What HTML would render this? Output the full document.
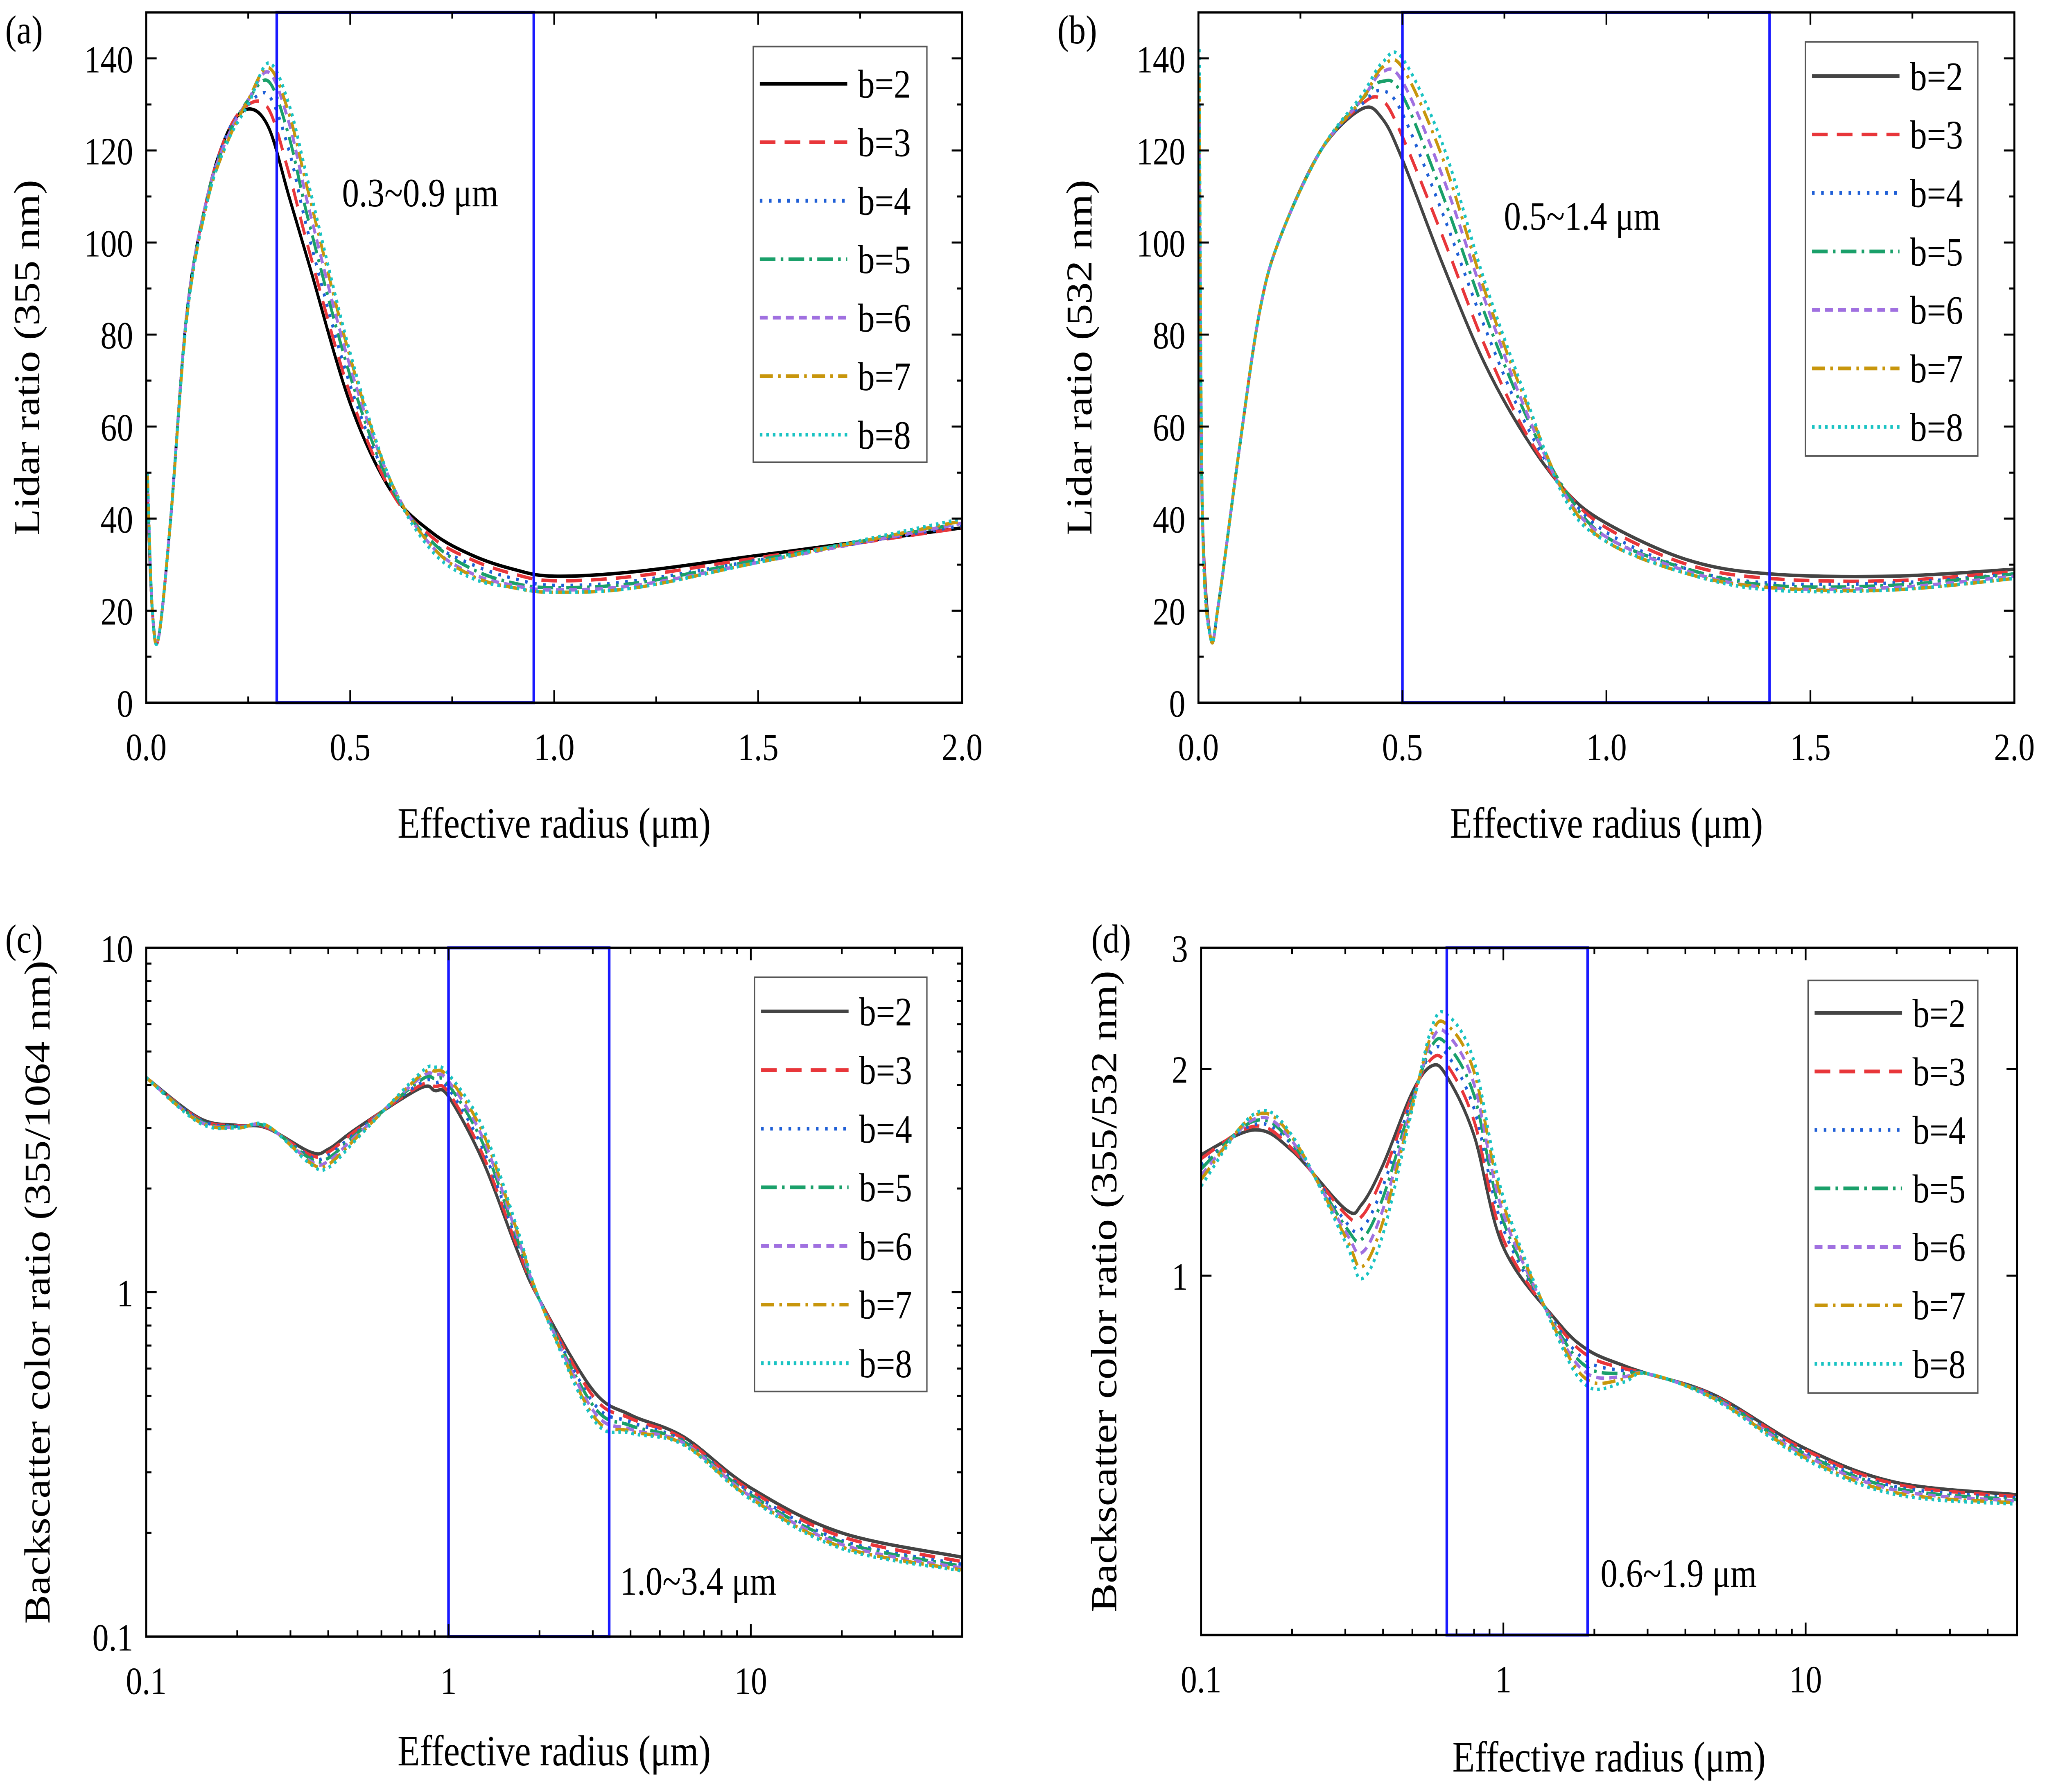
<!DOCTYPE html>
<html><head><meta charset="utf-8"><style>html,body{margin:0;padding:0;background:#fff;overflow:hidden;width:100vw;height:100vh}svg{display:block;width:100vw;height:100vh}</style></head>
<body>
<svg id="fig" xmlns="http://www.w3.org/2000/svg" viewBox="0 0 1568 1155.2" preserveAspectRatio="none" font-family="Liberation Serif, serif"></svg>
<script>
const labels=["b=2","b=3","b=4","b=5","b=6","b=7","b=8"];
const aX=[0.003,0.015,0.03,0.06,0.1,0.15,0.2,0.25,0.3,0.35,0.4,0.5,0.6,0.7,0.8,0.9,1.0,1.2,1.5,2.0];
const aY=[
[45,20,14,40,85,110,124,129,125,110,95,65,46,37,32,29,27.5,28.5,32,38],
[46,20,14,40,85,110,124,130,129,115,98,67,46,36,31,28,26.5,27.5,31.5,38],
[47,20,14,40,85,110,124,130,132,120,101,69,47,35,30,27,25.5,26.5,31,38.5],
[48,20,14,40,85,110,123,131,135,123,104,71,47,35,29,26,25,26,31,39],
[49,20,14,40,85,110,123,131,137,126,107,73,48,34,28,25.5,24.5,25.5,30.5,39],
[50,20,14,40,84,109,122,131,138,128,110,75,48,34,27.5,25,24,25,30.5,39.5],
[50,20,14,40,84,109,122,130,139,130,112,76,48,33,27,25,24,25,30.5,40]];
const bX=[0.002,0.01,0.03,0.05,0.1,0.15,0.2,0.3,0.4,0.45,0.5,0.6,0.7,0.8,0.9,1.0,1.2,1.4,1.7,2.0];
const bY=[
[100,40,14,22,55,85,101,120,129,127,118,95,74,58,46,39,31,28,27.5,29],
[110,40,14,22,55,85,101,120,130,131,123,101,78,59,46,38,30,27,26.5,28.5],
[120,40,14,22,55,85,101,120,130,133,128,106,82,61,46,37,29,26,26,28],
[125,40,14,22,55,85,101,120,131,135,132,110,85,63,46,36,29,25.5,25.5,28],
[130,40,14,22,55,85,101,120,131,137,135,114,88,64,45,36,28.5,25,25,27.5],
[136,40,14,22,55,85,101,120,131,138,138,118,90,66,45,35,28,25,24.5,27],
[142,40,14,22,55,85,101,120,132,139,140,121,92,67,44,35,28,24.5,24.5,27]];
const cX=[0.1,0.15,0.2,0.25,0.35,0.4,0.5,0.8,0.9,1.0,1.3,1.7,2,3,4,6,10,20,50];
const cY=[
[4.2,3.2,3.05,3.0,2.55,2.6,3.0,3.9,3.85,3.7,2.4,1.3,0.95,0.52,0.44,0.38,0.27,0.2,0.17],
[4.2,3.18,3.04,3.01,2.5,2.55,2.97,3.97,3.96,3.8,2.5,1.33,0.95,0.5,0.43,0.375,0.265,0.195,0.165],
[4.2,3.17,3.03,3.02,2.47,2.5,2.93,4.03,4.06,3.9,2.6,1.37,0.95,0.48,0.42,0.37,0.262,0.19,0.162],
[4.2,3.15,3.02,3.03,2.44,2.45,2.9,4.1,4.17,4.0,2.7,1.4,0.95,0.47,0.41,0.368,0.258,0.188,0.16],
[4.2,3.13,3.01,3.04,2.4,2.4,2.87,4.17,4.28,4.1,2.8,1.43,0.95,0.455,0.4,0.365,0.255,0.185,0.158],
[4.2,3.12,3.0,3.05,2.37,2.35,2.83,4.23,4.39,4.2,2.9,1.47,0.95,0.44,0.395,0.362,0.252,0.182,0.156],
[4.2,3.1,3.0,3.05,2.35,2.3,2.8,4.3,4.5,4.3,3.0,1.5,0.95,0.43,0.39,0.36,0.25,0.18,0.155]];
const dX=[0.1,0.15,0.2,0.3,0.34,0.4,0.5,0.58,0.65,0.8,1.0,1.5,1.9,2.5,3,5,10,20,50];
const dY=[
[1.5,1.63,1.52,1.25,1.27,1.45,1.85,2.02,1.95,1.6,1.1,0.86,0.78,0.74,0.72,0.67,0.56,0.5,0.48],
[1.48,1.65,1.53,1.23,1.22,1.4,1.83,2.07,2.03,1.68,1.13,0.853,0.765,0.733,0.72,0.668,0.557,0.497,0.477],
[1.45,1.66,1.55,1.2,1.17,1.35,1.82,2.12,2.1,1.75,1.17,0.847,0.75,0.727,0.72,0.667,0.553,0.493,0.475],
[1.43,1.68,1.56,1.18,1.13,1.3,1.8,2.16,2.17,1.83,1.2,0.84,0.735,0.72,0.72,0.665,0.55,0.49,0.472],
[1.4,1.69,1.57,1.16,1.08,1.25,1.78,2.2,2.25,1.9,1.23,0.833,0.72,0.713,0.72,0.663,0.547,0.487,0.47],
[1.38,1.71,1.59,1.14,1.03,1.2,1.77,2.25,2.32,1.98,1.27,0.827,0.705,0.707,0.72,0.662,0.543,0.483,0.467],
[1.35,1.72,1.6,1.12,0.99,1.15,1.75,2.3,2.4,2.05,1.3,0.82,0.69,0.7,0.72,0.66,0.54,0.48,0.465]];
const colors=["#000","#e8363a","#1f5fd6","#1aa06a","#a070e0","#c8960c","#19c3c3"];
const dashes=["","12,7","2,5","12,4,2,4","6,4","10,4,2,4","2,3"];
const NS="http://www.w3.org/2000/svg";
const svg=document.getElementById('fig');
function el(tag,attrs,parent,txt){const e=document.createElementNS(NS,tag);for(const k in attrs)e.setAttribute(k,attrs[k]);if(txt!==undefined)e.textContent=txt;(parent||svg).appendChild(e);return e;}
function spline(pts){let d="M"+pts[0][0]+","+pts[0][1];for(let i=0;i<pts.length-1;i++){const p0=pts[Math.max(0,i-1)],p1=pts[i],p2=pts[i+1],p3=pts[Math.min(pts.length-1,i+2)];const t=6;d+=" C"+(p1[0]+(p2[0]-p0[0])/t)+","+(p1[1]+(p2[1]-p0[1])/t)+" "+(p2[0]-(p3[0]-p1[0])/t)+","+(p2[1]-(p3[1]-p1[1])/t)+" "+p2[0]+","+p2[1];}return d;}
function panel(cfg){
  const g=el('g',{});
  
  
  const {x1,x2,y1,y2}=cfg;
  const sx=cfg.xlog?(v=>x1+(Math.log10(v)-Math.log10(cfg.xmin))/(Math.log10(cfg.xmax)-Math.log10(cfg.xmin))*(x2-x1)):(v=>x1+(v-cfg.xmin)/(cfg.xmax-cfg.xmin)*(x2-x1));
  const sy=cfg.ylog?(v=>y2-(Math.log10(v)-Math.log10(cfg.ymin))/(Math.log10(cfg.ymax)-Math.log10(cfg.ymin))*(y2-y1)):(v=>y2-(v-cfg.ymin)/(cfg.ymax-cfg.ymin)*(y2-y1));
  const clip=el('clipPath',{id:'clip'+cfg.id},g);el('rect',{x:x1,y:y1,width:x2-x1,height:y2-y1},clip);
  for(let s=0;s<7;s++){
    const pts=cfg.X.map((x,i)=>[sx(x),sy(cfg.Y[s][i])]);
    const p=el('path',{d:spline(pts),fill:'none',stroke:(s==0?cfg.c0:colors[s]),'stroke-width':2.2,'stroke-dasharray':dashes[s],'clip-path':'url(#clip'+cfg.id+')'},g);
    
    
  }
  const br=el('rect',{x:sx(cfg.box[0]),y:y1,width:sx(cfg.box[1])-sx(cfg.box[0]),height:y2-y1,fill:'none',stroke:'#1a1aff','stroke-width':2},g);
  
  
  const bt=el('text',{x:cfg.boxText[0],y:cfg.boxText[1],'font-size':26},g,cfg.boxLabel);
  
  
  el('rect',{x:x1,y:y1,width:x2-x1,height:y2-y1,fill:'none',stroke:'#000','stroke-width':1.5},g);
  cfg.xt.forEach(t=>{const X=sx(t[0]);const L=t[1]?8:4;
    el('line',{x1:X,x2:X,y1:y2,y2:y2-L,stroke:'#000','stroke-width':1.3},g);
    el('line',{x1:X,x2:X,y1:y1,y2:y1+L,stroke:'#000','stroke-width':1.3},g);
    if(t[1]){const tl=el('text',{x:X,y:y2+37,'font-size':25,'text-anchor':'middle'},g,t[1]);}});
  cfg.yt.forEach(t=>{const Y=sy(t[0]);const L=t[1]?8:4;
    el('line',{x1:x1,x2:x1+L,y1:Y,y2:Y,stroke:'#000','stroke-width':1.3},g);
    el('line',{x1:x2,x2:x2-L,y1:Y,y2:Y,stroke:'#000','stroke-width':1.3},g);
    if(t[1]){const tl=el('text',{x:x1-10,y:Y+9,'font-size':25,'text-anchor':'end'},g,t[1]);}});
  const xt=el('text',{x:(x1+x2)/2,y:cfg.xtY,'font-size':28,'text-anchor':'middle'},g,'Effective radius (μm)');
  
  const cy=(y1+y2)/2;
  const yt=el('text',{x:cfg.ytX,y:cy,'font-size':28,'text-anchor':'middle',transform:'rotate(-90 '+cfg.ytX+' '+cy+')'},g,cfg.ytitle);
  
  const pl=el('text',{x:cfg.pl[0],y:cfg.pl[1],'font-size':26},g,'('+cfg.id+')');
  
  const lg=el('g',{},g);
  
  
  const [lx,ly,lw,lh,l0,ld]=cfg.leg;
  el('rect',{x:lx,y:ly,width:lw,height:lh,fill:'#fff',stroke:'#555','stroke-width':1},lg);
  for(let s=0;s<7;s++){const Y=l0+s*ld;
    const e=el('g',{},lg);
    
    
    el('line',{x1:lx+5,x2:lx+72,y1:Y,y2:Y,stroke:(s==0?cfg.c0:colors[s]),'stroke-width':2.4,'stroke-dasharray':dashes[s]},e);
    el('text',{x:lx+80,y:Y+9,'font-size':26},e,labels[s]);}
}
function linTicks(a,b,maj,min,fmt){const r=[];for(let v=a;v<=b+1e-9;v+=min){const isM=Math.abs(v/maj-Math.round(v/maj))<1e-6;r.push([v,isM?fmt(v):null]);}return r;}
function logTicks(a,b,lab){const r=[];for(let d=Math.floor(Math.log10(a));d<=Math.ceil(Math.log10(b));d++){for(let m=1;m<10;m++){const v=m*Math.pow(10,d);if(v<a-1e-9||v>b+1e-9)continue;r.push([v,m==1?(lab[v]||null):null]);}}return r;}
const xtA=linTicks(0,2,0.5,0.25,v=>v.toFixed(1));
const ytA=linTicks(0,150,20,10,v=>String(Math.round(v)));
panel({id:'a',x1:112,x2:737,y1:8,y2:453,xmin:0,xmax:2,ymin:0,ymax:150,X:aX,Y:aY,c0:'#000',box:[0.32,0.95],boxText:[262,133],boxLabel:'0.3~0.9 μm',xt:xtA,yt:ytA,xtY:540,ytX:30,ytitle:'Lidar ratio (355 nm)',pl:[4,28],leg:[577,30,133,268,54,37.7]});
panel({id:'b',x1:918,x2:1543,y1:8,y2:453,xmin:0,xmax:2,ymin:0,ymax:150,X:bX,Y:bY,c0:'#444',box:[0.5,1.4],boxText:[1152,148],boxLabel:'0.5~1.4 μm',xt:xtA,yt:ytA,xtY:540,ytX:836,ytitle:'Lidar ratio (532 nm)',pl:[810,28],leg:[1383,27,132,267,49,37.7]});
panel({id:'c',x1:112,x2:737,y1:611,y2:1055,xmin:0.1,xmax:50,ymin:0.1,ymax:10,xlog:true,ylog:true,X:cX,Y:cY,c0:'#444',box:[1.0,3.4],boxText:[475,1028],boxLabel:'1.0~3.4 μm',xt:logTicks(0.1,50,{0.1:'0.1',1:'1',10:'10'}),yt:logTicks(0.1,10,{0.1:'0.1',1:'1',10:'10'}),xtY:1138,ytX:38,ytitle:'Backscatter color ratio (355/1064 nm)',pl:[4,614],leg:[578,630,132,267,652,37.8]});
panel({id:'d',x1:920,x2:1545,y1:611,y2:1054,xmin:0.1,xmax:50,ymin:0.3,ymax:3,xlog:true,ylog:true,X:dX,Y:dY,c0:'#444',box:[0.65,1.9],boxText:[1226,1023],boxLabel:'0.6~1.9 μm',xt:logTicks(0.1,50,{0.1:'0.1',1:'1',10:'10'}),yt:[[1,'1'],[2,'2'],[3,'3']],xtY:1142,ytX:855,ytitle:'Backscatter color ratio (355/532 nm)',pl:[836,614],leg:[1385,632,130,266,653,37.7]});
</script>
</body></html>
